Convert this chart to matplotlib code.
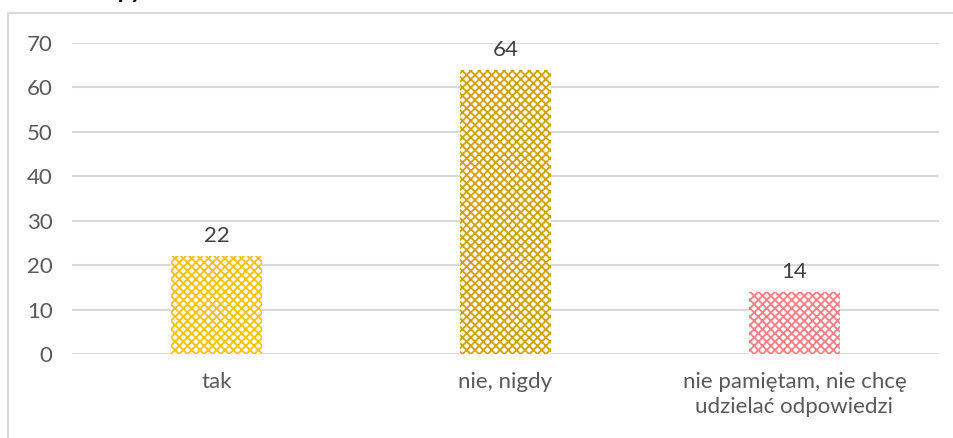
import matplotlib
matplotlib.use("Agg")
from matplotlib import pyplot as plt
from matplotlib.patches import Rectangle

#%% Data

categories = ["tak", "nie, nigdy", "nie pamiętam, nie chcę\nudzielać odpowiedzi"]
values = [22, 64, 14]
bar_colors = ["#FFC000", "#D4A000", "#FF7C80"]
yticks = [0, 10, 20, 30, 40, 50, 60, 70]

#%% Plot

plt.rcParams['font.family'] = ['Lato', 'DejaVu Sans']
plt.rcParams['hatch.linewidth'] = 1.3

fig = plt.figure(figsize=(9.54, 4.38), dpi=100)
ax = fig.add_axes([72/954, 1 - 354/438, 867/954, 311/438])

x = range(len(categories))
for i, (v, c) in enumerate(zip(values, bar_colors)):
    ax.bar(i, v, width=0.315, color="white", edgecolor=c, hatch="xxxx", linewidth=0, zorder=2)
    ax.text(i, v + 2.2, str(v), ha="center", va="bottom", fontsize=16, color="#404040")

ax.set_xlim(-0.5, 2.5)
ax.set_ylim(0, 70)
ax.set_yticks(yticks)
ax.set_xticks(list(x))
ax.set_xticklabels(categories, fontsize=16, color="#595959", linespacing=1.3)
ax.tick_params(axis="y", labelsize=16, labelcolor="#595959", length=0, pad=14)
ax.tick_params(axis="x", length=0, pad=13)
ax.grid(axis="y", color="#D9D9D9", linewidth=1.5, zorder=0)
for s in ax.spines.values():
    s.set_visible(False)

# outer chart frame (clipped at right and bottom)
fig.patches.append(Rectangle((8/954, -0.2), 1.2, 1.2 - 13/438, transform=fig.transFigure,
                             fill=False, edgecolor="#D9D9D9", linewidth=1.5))

# title, mostly above the visible area as in the original crop
fig.text(118/954, 1 + 2/438, "py", fontsize=18, fontweight="bold", fontstyle="italic",
         va="baseline", ha="left", color="black")

fig.savefig("out.png", dpi=100)
